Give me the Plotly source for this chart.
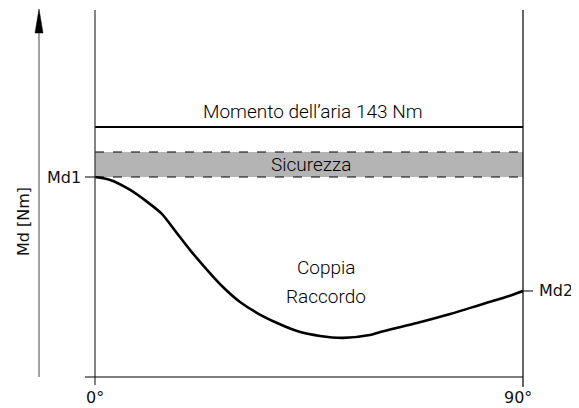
import plotly.graph_objects as go

# ---- data ----
angle_deg = [0, 3.2, 7.4, 10.9, 14.1, 17.2, 20.0, 23.6, 26.9, 30.5, 34.1, 38.3, 42.5,
             47.3, 52.2, 57.8, 60.6, 67.7, 74.7, 81.6, 85.8, 90]
torque_nm = [114.4, 112.7, 107.0, 100.3, 93.2, 82.4, 72.6, 61.2, 51.5, 42.9, 36.6, 30.9, 26.3,
             23.5, 22.4, 24.0, 26.2, 30.9, 36.0, 41.8, 45.2, 49.2]
air_moment = 143
safety_top = 128.7
md1 = 114.4
md2 = 49.2
x_ticks = [0, 90]
x_tick_labels = ["0°", "90°"]

# page pixels -> data units (the page body has an 8px margin)
OFF = 8
WIN_W, WIN_H = 579, 408
W, H = WIN_W - OFF, WIN_H - OFF
PX_X0, PX_X90 = 95, 523
PX_Y0 = 377
NM_PER_PX = 143 / 250
DEG_PER_PX = 90 / (PX_X90 - PX_X0)

x_range = [(OFF - PX_X0) * DEG_PER_PX, (WIN_W - PX_X0) * DEG_PER_PX]
y_range = [(PX_Y0 - WIN_H) * NM_PER_PX, (PX_Y0 - OFF) * NM_PER_PX]

def X(px):
    return (px - PX_X0) * DEG_PER_PX

def Y(py):
    return (PX_Y0 - py) * NM_PER_PX

fig = go.Figure()

fig.add_trace(go.Scatter(x=angle_deg, y=torque_nm, mode="lines",
                         line=dict(color="black", width=2.6, shape="spline", smoothing=0.7),
                         hoverinfo="skip", showlegend=False))

shapes = []
shapes.append(dict(type="rect", xref="x", yref="y", x0=0, x1=90, y0=md1, y1=safety_top,
                   fillcolor="#b4b4b4", line=dict(width=0), layer="below"))
shapes.append(dict(type="line", xref="x", yref="y", x0=0, x1=90, y0=safety_top, y1=safety_top,
                   line=dict(color="black", width=1.2, dash="dash")))
shapes.append(dict(type="line", xref="x", yref="y", x0=0, x1=90, y0=md1, y1=md1,
                   line=dict(color="black", width=1.2, dash="dash")))
shapes.append(dict(type="line", xref="x", yref="y", x0=0, x1=90, y0=air_moment, y1=air_moment,
                   line=dict(color="black", width=2.2)))
# frame lines
shapes.append(dict(type="line", xref="x", yref="y", x0=0, x1=0, y0=Y(385), y1=Y(10),
                   line=dict(color="#333333", width=1.2)))
shapes.append(dict(type="line", xref="x", yref="y", x0=90, x1=90, y0=Y(387), y1=Y(10),
                   line=dict(color="black", width=1.2)))
shapes.append(dict(type="line", xref="x", yref="y", x0=X(85), x1=90, y0=0, y1=0,
                   line=dict(color="black", width=1.2)))
# ticks for Md1 / Md2
shapes.append(dict(type="line", xref="x", yref="y", x0=X(85), x1=0, y0=md1, y1=md1,
                   line=dict(color="black", width=1)))
shapes.append(dict(type="line", xref="x", yref="y", x0=90, x1=X(533), y0=md2, y1=md2,
                   line=dict(color="black", width=1)))
# y arrow
ax = X(39)
shapes.append(dict(type="line", xref="x", yref="y", x0=ax, x1=ax, y0=0, y1=Y(30),
                   line=dict(color="#666666", width=1.2)))
shapes.append(dict(type="path", xref="x", yref="y",
                   path=f"M {X(35)} {Y(33)} L {X(43)} {Y(33)} L {ax} {Y(9)} Z",
                   fillcolor="black", line=dict(color="black", width=0.5)))

cond = "Roboto, Liberation Sans, sans-serif"
tech = "DejaVu Sans, sans-serif"
cfont = dict(family=cond, size=19, color="black", weight=300)

annotations = [
    dict(x=X(313), y=Y(111), text="Momento dell’aria 143 Nm", showarrow=False, font=cfont),
    dict(x=X(311), y=(md1 + safety_top) / 2, text="Sicurezza", showarrow=False, font=cfont),
    dict(x=X(326), y=Y(267), text="Coppia", showarrow=False, font=cfont),
    dict(x=X(326), y=Y(296), text="Raccordo", showarrow=False, font=cfont),
    dict(x=X(83), y=md1, text="Md1", showarrow=False, xanchor="right",
         font=dict(family=tech, size=16, color="#111111")),
    dict(x=X(537), y=md2, text="Md2", showarrow=False, xanchor="left",
         font=dict(family=tech, size=16, color="#111111")),
    dict(x=X(23), y=Y(222), text="Md [Nm]", showarrow=False, textangle=-90,
         font=dict(family=tech, size=16, color="#111111")),
]
tick_px = [95, 518]
for t, lab, px in zip(x_ticks, x_tick_labels, tick_px):
    annotations.append(dict(x=t, xshift=(px - PX_X0 - t / DEG_PER_PX), y=Y(397), text=lab,
                            showarrow=False, font=dict(family=tech, size=16, color="#111111")))

fig.update_layout(
    width=W, height=H, margin=dict(l=0, r=0, t=0, b=0),
    paper_bgcolor="white", plot_bgcolor="white",
    xaxis=dict(range=x_range, visible=False, fixedrange=True),
    yaxis=dict(range=y_range, visible=False, fixedrange=True),
    shapes=shapes, annotations=annotations, showlegend=False,
)

fig.write_html("out.html")
